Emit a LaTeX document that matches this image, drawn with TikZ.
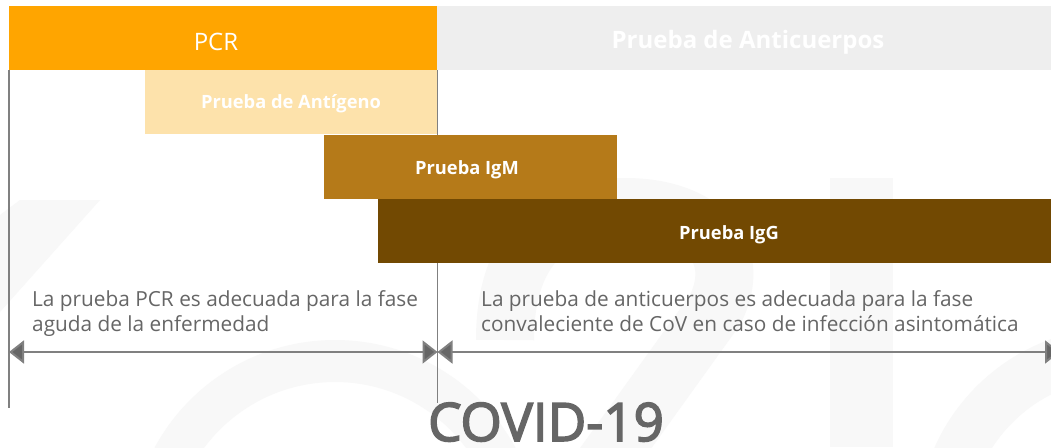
\documentclass[tikz,border=0pt]{standalone}
\usepackage{fontspec}
\setmainfont{Open Sans}
\newfontfamily\covidfont[FakeBold=3]{Open Sans}
\usetikzlibrary{arrows.meta}
\definecolor{pcrc}{HTML}{FFA500}
\definecolor{antic}{HTML}{EEEEEE}
\definecolor{antigc}{HTML}{FDE2AB}
\definecolor{igmc}{HTML}{B57A19}
\definecolor{iggc}{HTML}{724902}
\definecolor{txtc}{HTML}{666666}
\definecolor{linec}{HTML}{808080}
\definecolor{wmc}{HTML}{F8F8F8}
\tikzset{
  bar/.style={draw=none, inner sep=0pt, outer sep=0pt, anchor=north west},
  bartext/.style={text=white, font=\bfseries\fontsize{18.3}{21}\selectfont, anchor=base, inner sep=0pt},
  desc/.style={text=txtc, font=\fontsize{20.8}{24.5}\selectfont, anchor=base west, inner sep=0pt, align=left},
  vline/.style={draw=linec, line width=1.4pt},
  span/.style={draw=linec, line width=2pt, {Triangle[length=15pt,width=23pt,fill=txtc]}-{Triangle[length=15pt,width=23pt,fill=txtc]}, shorten <=0pt, shorten >=0pt},
}
\begin{document}
\begin{tikzpicture}[x=1pt,y=-1pt]
\useasboundingbox (0,0) rectangle (1051,447);
\fill[white] (0,0) rectangle (1051,447);
% faint watermark shapes
\begin{scope}
\clip (0,0) rectangle (1051,447);
\fill[wmc] (0,215) -- (20,200) -- (100,200) -- (0,312) -- cycle;
\fill[wmc, even odd rule] (335,545) circle[radius=205pt] (335,545) circle[radius=163pt];
\draw[wmc, line width=58pt] (505,340) .. controls (505,240) and (560,207) .. (625,207) .. controls (700,207) and (745,250) .. (715,310) -- (600,470);
\fill[wmc] (830,178) rectangle (893,447);
\fill[wmc, even odd rule] (1120,530) circle[radius=203pt] (1120,530) circle[radius=152pt];
\end{scope}
% vertical guide lines
\coordinate (l0) at (9,70);
\coordinate (l1) at (9,408);
\coordinate (m0) at (437.5,70);
\coordinate (m1) at (437.5,403);
\draw[vline] (l0) -- (l1);
\draw[vline] (m0) -- (m1);
% bars
\node[bar, fill=pcrc, minimum width=428pt, minimum height=64pt] (pcr) at (9,6) {};
\node[bar, fill=antic, minimum width=614pt, minimum height=64pt] (anti) at (437,6) {};
\node[bar, fill=antigc, minimum width=292pt, minimum height=64pt] (antig) at (145,70) {};
\node[bar, fill=igmc, minimum width=293pt, minimum height=64pt] (igm) at (324,135) {};
\node[bar, fill=iggc, minimum width=673pt, minimum height=64pt] (igg) at (378,199) {};
% bar labels
\node[anchor=base, text=white, inner sep=0pt, font=\fontsize{24}{28}\selectfont] (pcrt) at (216,50) {PCR};
\node[anchor=base, text=white, inner sep=0pt, font=\bfseries\fontsize{24}{28}\selectfont] (antit) at (748,48) {Prueba de Anticuerpos};
\node[bartext] (antigt) at (291,108) {Prueba de Antígeno};
\node[bartext] (igmt) at (467,174) {Prueba IgM};
\node[bartext] (iggt) at (729,239) {Prueba IgG};
% descriptions
\node[desc] (dl) at (32,331) {La prueba PCR es adecuada para la fase\\aguda de la enfermedad};
\node[desc] (dr) at (481,331) {La prueba de anticuerpos es adecuada para la fase\\convaleciente de CoV en caso de infección asintomática};
% span arrows
\coordinate (a0) at (9,352);
\coordinate (a1) at (437.5,352);
\coordinate (a2) at (1060,352);
\draw[span] (a0) -- (a1);
\draw[span] (a1) -- (a2);
% title
\node[anchor=base, text=txtc, inner sep=0pt, font=\covidfont\fontsize{53}{58}\selectfont] (covid) at (546,441) {COVID-19};
\end{tikzpicture}
\end{document}
